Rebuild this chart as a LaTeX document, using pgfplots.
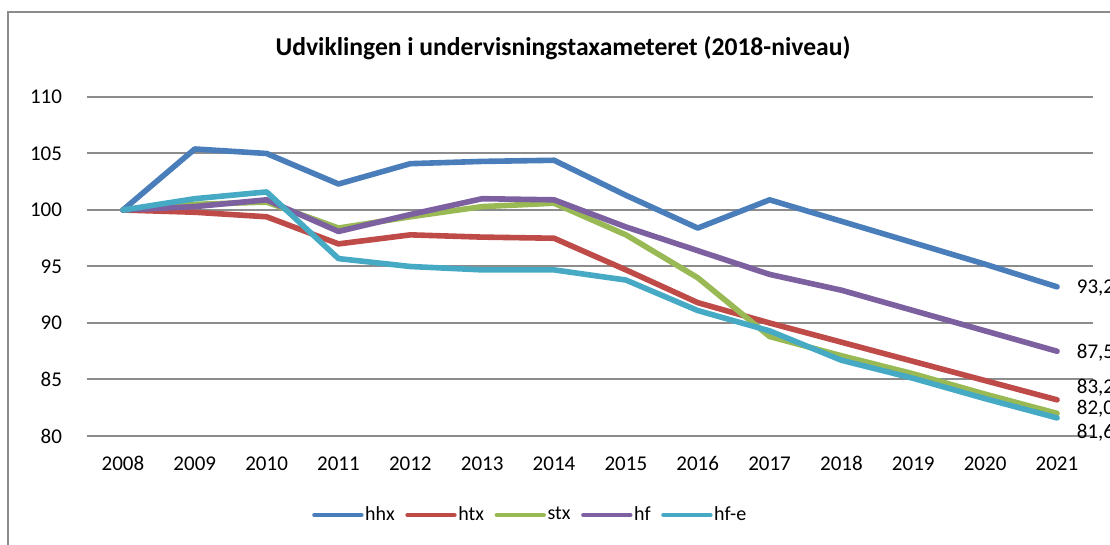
\documentclass[border=0pt]{standalone}
\usepackage{fontspec}
\setmainfont{Carlito}
\usepackage{pgfplots}
\pgfplotsset{compat=1.18}
\definecolor{chhx}{HTML}{4A7EBB}
\definecolor{chtx}{HTML}{BE4B48}
\definecolor{cstx}{HTML}{98B954}
\definecolor{chf}{HTML}{7D60A0}
\definecolor{chfe}{HTML}{46AAC5}
\definecolor{cgrid}{HTML}{8C8C8C}
\begin{document}
\begin{tikzpicture}[x=0.5pt,y=0.5pt]
\clip (0,0) rectangle (1110,545);
\draw[color=cgrid, line width=1pt] (8,-20) -- (8,533) -- (1130,533);
\node[font=\fontsize{12.8}{15}\selectfont\bfseries] at (563,497) {Udviklingen i undervisningstaxameteret (2018-niveau)};
\begin{axis}[
  at={(43.5pt,54.5pt)}, anchor=south west,
  scale only axis, width=503pt, height=169.5pt,
  xmin=2007.5, xmax=2021.5, ymin=80, ymax=110,
  xtick={2008,...,2021}, ytick={80,85,...,110},
  /pgf/number format/assume math mode=true,
  /pgf/number format/1000 sep={},
  axis line style={draw=none}, tick style={draw=none},
  ymajorgrids, grid style={color=cgrid, line width=1pt},
  ticklabel style={font=\fontsize{10.5}{12}\selectfont},
  yticklabel style={xshift=-9pt},
  xticklabel style={yshift=-6pt, text height=7.5pt, text depth=0pt},
  clip=false,
  legend columns=5,
  legend style={at={(0.4404,-0.233)}, anchor=center, draw=none, fill=none,
    font=\fontsize{10}{12}\selectfont,
    /tikz/every even column/.append style={column sep=4.5pt},
    nodes={inner sep=0.8pt}},
  legend image code/.code={\draw[line width=2.2pt, line cap=round] (0pt,0pt) -- (23.5pt,0pt);},
  every axis plot/.append style={line width=2.8pt, line cap=round, line join=round},
]
\addplot[chhx] coordinates {(2008,100) (2009,105.4) (2010,105.0) (2011,102.3) (2012,104.1) (2013,104.3) (2014,104.4) (2015,101.3) (2016,98.4) (2017,100.9) (2018,99.0) (2019,97.1) (2020,95.2) (2021,93.2)};
\addplot[chtx] coordinates {(2008,100) (2009,99.8) (2010,99.4) (2011,97.0) (2012,97.8) (2013,97.6) (2014,97.5) (2015,94.7) (2016,91.8) (2017,90.0) (2018,88.3) (2019,86.6) (2020,84.9) (2021,83.2)};
\addplot[cstx] coordinates {(2008,100) (2009,100.5) (2010,100.7) (2011,98.4) (2012,99.4) (2013,100.3) (2014,100.6) (2015,97.8) (2016,94.0) (2017,88.8) (2018,87.1) (2019,85.5) (2020,83.7) (2021,82.0)};
\addplot[chf] coordinates {(2008,100) (2009,100.3) (2010,100.9) (2011,98.1) (2012,99.6) (2013,101.0) (2014,100.9) (2015,98.5) (2016,96.4) (2017,94.3) (2018,92.9) (2019,91.1) (2020,89.3) (2021,87.5)};
\addplot[chfe] coordinates {(2008,100) (2009,101.0) (2010,101.6) (2011,95.7) (2012,95.0) (2013,94.7) (2014,94.7) (2015,93.8) (2016,91.1) (2017,89.3) (2018,86.7) (2019,85.1) (2020,83.3) (2021,81.6)};
\legend{hhx,htx,stx,hf,hf-e}
\begin{scope}[every node/.style={anchor=west, inner sep=0pt, font=\fontsize{10.5}{12}\selectfont}]
\node at (axis cs:2021.27,93.1) {93,2};
\node at (axis cs:2021.27,87.4) {87,5};
\node at (axis cs:2021.27,84.25) {83,2};
\node at (axis cs:2021.27,82.4) {82,0};
\node at (axis cs:2021.27,80.3) {81,6};
\end{scope}
\end{axis}
\end{tikzpicture}
\end{document}
